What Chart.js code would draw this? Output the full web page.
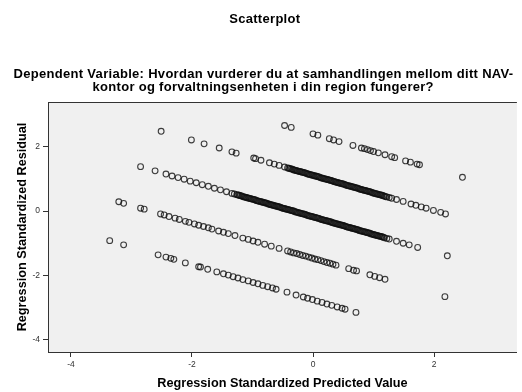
<!DOCTYPE html>
<html>
<head>
<meta charset="utf-8">
<script src="https://cdn.jsdelivr.net/npm/chart.js@4.4.1/dist/chart.umd.min.js"></script>
<style>
  html, body { margin: 0; padding: 0; background: #ffffff; }
  #wrap { width: 522px; height: 392px; }
</style>
</head>
<body>
<div id="wrap"><canvas id="c" width="522" height="392"></canvas></div>
<script>
// ---- Data ----
const chartTitle = "Scatterplot";
const chartSubtitle = [
  "Dependent Variable: Hvordan vurderer du at samhandlingen mellom ditt NAV-",
  "kontor og forvaltningsenheten i din region fungerer?"
];
const xAxisTitle = "Regression Standardized Predicted Value";
const yAxisTitle = "Regression Standardized Residual";
const xTicks = [-4, -2, 0, 2];
const yTicks = [-4, -2, 0, 2];

// Each band = one observed response level: [standardized predicted, standardized residual]
const bandA = [
  [-0.47,2.66],[-0.36,2.60],[0.00,2.40],[0.08,2.36],[0.27,2.25],[0.34,2.21],[0.43,2.16],
  [0.66,2.04],[0.80,1.96],[0.85,1.94],[0.90,1.91],[0.95,1.88],[1.00,1.85],[1.08,1.81],
  [1.19,1.75],[1.30,1.69],[1.35,1.66],[1.53,1.56],[1.61,1.52],[1.72,1.46],[1.76,1.44],
  [2.47,1.05]
];
const bandB = [
  [-2.51,2.48],[-2.01,2.21],[-1.80,2.09],[-1.55,1.96],[-1.34,1.84],[-1.27,1.80],
  [-0.98,1.65],[-0.95,1.63],[-0.86,1.58],[-0.72,1.50],[-0.64,1.46],[-0.56,1.42],[-0.47,1.37],
  [-0.42,1.34],[-0.38,1.32],[-0.34,1.30],[-0.30,1.27],[-0.26,1.25],[-0.22,1.23],[-0.18,1.21],
  [-0.14,1.19],[-0.10,1.16],[-0.06,1.14],[-0.02,1.12],[0.02,1.10],[0.06,1.08],[0.10,1.06],
  [0.14,1.03],[0.18,1.01],[0.22,0.99],[0.26,0.97],[0.30,0.95],[0.34,0.92],[0.38,0.90],
  [0.42,0.88],[0.46,0.86],[0.50,0.84],[0.54,0.81],[0.58,0.79],[0.62,0.77],[0.66,0.75],
  [0.70,0.73],[0.74,0.71],[0.78,0.68],[0.82,0.66],[0.86,0.64],[0.90,0.62],[0.94,0.60],
  [0.98,0.57],[1.02,0.55],[1.06,0.53],[1.10,0.51],[1.14,0.49],[1.18,0.46],[1.22,0.44],
  [1.26,0.42],[1.30,0.40],
  [-0.40,1.33],[-0.36,1.31],[-0.32,1.28],
  [-0.28,1.26],[-0.24,1.24],[-0.20,1.22],[-0.16,1.20],[-0.12,1.18],[-0.08,1.15],[-0.04,1.13],
  [0.00,1.11],[0.04,1.09],[0.08,1.07],[0.12,1.04],[0.16,1.02],[0.20,1.00],[0.24,0.98],
  [0.28,0.96],[0.32,0.94],[0.36,0.91],[0.40,0.89],[0.44,0.87],[0.48,0.85],[0.52,0.83],
  [0.56,0.80],[0.60,0.78],[0.64,0.76],[0.68,0.74],[0.72,0.72],[0.76,0.69],[0.80,0.67],
  [0.84,0.65],[0.88,0.63],[0.92,0.61],[0.96,0.59],[1.00,0.56],[1.04,0.54],[1.08,0.52],
  [1.12,0.50],[1.16,0.48],[1.20,0.45],
  [1.38,0.36],[1.49,0.30],[1.62,0.22],[1.70,0.18],[1.79,0.13],[1.87,0.09],[1.99,0.02],
  [2.11,-0.04],[2.19,-0.09]
];
const bandC = [
  [-2.85,1.38],[-2.61,1.25],[-2.43,1.15],[-2.33,1.09],[-2.23,1.04],[-2.13,0.99],[-2.03,0.93],
  [-1.93,0.88],[-1.83,0.82],[-1.73,0.77],[-1.63,0.71],[-1.53,0.66],[-1.43,0.60],[-1.34,0.55],
  [-1.30,0.53],
  [-1.26,0.51],[-1.22,0.49],[-1.18,0.47],[-1.14,0.44],[-1.10,0.42],[-1.06,0.40],[-1.02,0.38],
  [-0.98,0.36],[-0.94,0.33],[-0.90,0.31],[-0.86,0.29],[-0.82,0.27],[-0.78,0.25],[-0.74,0.22],
  [-0.70,0.20],[-0.66,0.18],[-0.62,0.16],[-0.58,0.14],[-0.54,0.12],[-0.50,0.09],[-0.46,0.07],
  [-0.42,0.05],[-0.38,0.03],[-0.34,0.01],[-0.30,-0.02],[-0.26,-0.04],[-0.22,-0.06],[-0.18,-0.08],
  [-0.14,-0.10],[-0.10,-0.13],[-0.06,-0.15],[-0.02,-0.17],[0.02,-0.19],[0.06,-0.21],[0.10,-0.23],
  [0.14,-0.26],[0.18,-0.28],[0.22,-0.30],[0.26,-0.32],[0.30,-0.34],[0.34,-0.37],[0.38,-0.39],
  [0.42,-0.41],[0.46,-0.43],[0.50,-0.45],[0.54,-0.48],[0.58,-0.50],[0.62,-0.52],[0.66,-0.54],
  [0.70,-0.56],[0.74,-0.58],[0.78,-0.61],[0.82,-0.63],[0.86,-0.65],[0.90,-0.67],[0.94,-0.69],
  [0.98,-0.72],[1.02,-0.74],[1.06,-0.76],[1.10,-0.78],[1.14,-0.80],[1.18,-0.83],[1.22,-0.85],
  [1.26,-0.87],
  [-1.24,0.50],[-1.20,0.48],[-1.16,0.45],[-1.12,0.43],[-1.08,0.41],[-1.04,0.39],[-1.00,0.37],
  [-0.96,0.35],[-0.92,0.32],[-0.88,0.30],[-0.84,0.28],
  [-0.80,0.26],[-0.76,0.24],[-0.72,0.21],[-0.68,0.19],[-0.64,0.17],[-0.60,0.15],[-0.56,0.13],
  [-0.52,0.10],[-0.48,0.08],[-0.44,0.06],[-0.40,0.04],[-0.36,0.02],[-0.32,0.00],[-0.28,-0.03],
  [-0.24,-0.05],[-0.20,-0.07],[-0.16,-0.09],[-0.12,-0.11],[-0.08,-0.14],[-0.04,-0.16],[0.00,-0.18],
  [0.04,-0.20],[0.08,-0.22],[0.12,-0.25],[0.16,-0.27],[0.20,-0.29],[0.24,-0.31],[0.28,-0.33],
  [0.32,-0.36],[0.36,-0.38],[0.40,-0.40],[0.44,-0.42],[0.48,-0.44],[0.52,-0.46],[0.56,-0.49],
  [0.60,-0.51],[0.64,-0.53],[0.68,-0.55],[0.72,-0.57],[0.76,-0.60],[0.80,-0.62],[0.84,-0.64],
  [0.88,-0.66],[0.92,-0.68],[0.96,-0.71],[1.00,-0.73],[1.04,-0.75],[1.08,-0.77],[1.12,-0.79],
  [1.16,-0.81],
  [1.38,-0.94],[1.49,-1.00],[1.59,-1.05],[1.73,-1.13],[2.22,-1.39]
];
const bandD = [
  [-3.21,0.29],[-3.13,0.24],[-2.85,0.09],[-2.79,0.06],
  [-2.52,-0.09],[-2.46,-0.12],[-2.38,-0.17],[-2.28,-0.22],[-2.21,-0.26],[-2.11,-0.32],
  [-2.05,-0.35],[-1.96,-0.40],[-1.89,-0.44],[-1.81,-0.48],[-1.73,-0.52],[-1.67,-0.56],
  [-1.56,-0.62],[-1.48,-0.66],[-1.40,-0.70],[-1.29,-0.76],[-1.16,-0.84],[-1.07,-0.88],
  [-0.99,-0.93],[-0.91,-0.97],[-0.80,-1.03],[-0.69,-1.09],[-0.56,-1.16],
  [-0.42,-1.24],[-0.37,-1.27],[-0.32,-1.30],[-0.27,-1.32],[-0.22,-1.35],[-0.17,-1.38],
  [-0.12,-1.40],[-0.07,-1.43],[-0.02,-1.46],[0.03,-1.49],[0.08,-1.51],[0.13,-1.54],
  [0.18,-1.57],[0.23,-1.60],[0.28,-1.62],[0.33,-1.65],[0.38,-1.68],
  [0.59,-1.79],[0.67,-1.84],[0.72,-1.86],[0.94,-1.98],[1.02,-2.03],[1.10,-2.07],[1.19,-2.12],
  [2.18,-2.66]
];
const bandE = [
  [-3.36,-0.92],[-3.13,-1.05],
  [-2.56,-1.36],[-2.43,-1.43],[-2.35,-1.47],[-2.30,-1.50],[-2.11,-1.61],[-1.89,-1.73],
  [-1.86,-1.74],[-1.74,-1.81],[-1.59,-1.89],[-1.48,-1.95],[-1.40,-1.99],[-1.32,-2.04],
  [-1.24,-2.08],[-1.16,-2.13],[-1.07,-2.17],[-0.99,-2.22],[-0.91,-2.26],[-0.83,-2.31],
  [-0.75,-2.35],[-0.67,-2.39],[-0.61,-2.43],
  [-0.43,-2.52],[-0.28,-2.61],[-0.16,-2.67],[-0.09,-2.71],[-0.01,-2.75],[0.07,-2.80],
  [0.15,-2.84],[0.23,-2.89],[0.31,-2.93],[0.40,-2.98],[0.48,-3.02],[0.53,-3.05],[0.71,-3.15]
];
const bands = [bandA, bandB, bandC, bandD, bandE];

// ---- Styling ----
const FONT = '"Liberation Sans", Arial, sans-serif';
const markerColor = 'rgba(15,15,15,0.8)';
const axisColor = '#333333';

const backgroundPlugin = {
  id: 'plotBackground',
  beforeDraw(chart) {
    const {ctx, chartArea: a} = chart;
    ctx.save();
    ctx.fillStyle = '#f0f0f0';
    ctx.fillRect(a.left, a.top, a.right - a.left, a.bottom - a.top);
    ctx.strokeStyle = axisColor;
    ctx.lineWidth = 1;
    ctx.beginPath();
    ctx.moveTo(a.left, Math.floor(a.top) + 0.5);
    ctx.lineTo(a.right, Math.floor(a.top) + 0.5);
    ctx.stroke();
    ctx.restore();
  }
};

const titlesPlugin = {
  id: 'titles',
  afterDraw(chart) {
    const ctx = chart.ctx;
    ctx.save();
    ctx.fillStyle = '#000000';
    ctx.textAlign = 'center';
    ctx.textBaseline = 'alphabetic';
    ctx.font = 'bold 13px ' + FONT;
    if ('letterSpacing' in ctx) ctx.letterSpacing = '0.3px';
    ctx.fillText(chartTitle, 264.8, 23.3);
    ctx.fillText(chartSubtitle[0], 263.5, 78.3);
    ctx.fillText(chartSubtitle[1], 263.2, 91.3);
    if ('letterSpacing' in ctx) ctx.letterSpacing = '0px';
    ctx.restore();
  }
};

new Chart(document.getElementById('c'), {
  type: 'scatter',
  data: {
    datasets: bands.map((b, i) => ({
      label: 'band' + i,
      data: b.map(p => ({x: p[0], y: p[1]})),
      pointStyle: 'circle',
      pointRadius: 2.9,
      pointBorderWidth: 1.1,
      pointBorderColor: markerColor,
      pointBackgroundColor: 'rgba(0,0,0,0)',
      showLine: false
    }))
  },
  options: {
    responsive: false,
    devicePixelRatio: 1,
    animation: false,
    events: [],
    layout: { padding: { top: 102, left: 0, right: 0, bottom: 0 } },
    plugins: {
      legend: { display: false },
      tooltip: { enabled: false },
      title: { display: false }
    },
    scales: {
      x: {
        type: 'linear',
        position: 'bottom',
        min: -4.38, max: 3.37,
        afterBuildTicks: s => { s.ticks = xTicks.map(v => ({value: v})); },
        afterFit: s => { s.height = 40; },
        ticks: {
          callback: v => String(v),
          color: '#333333',
          font: { family: FONT, size: 8.5 },
          padding: 3,
          maxRotation: 0
        },
        grid: {
          display: true, drawOnChartArea: false, drawTicks: true,
          tickLength: 5, tickColor: axisColor, color: axisColor
        },
        border: { display: true, color: axisColor, width: 1 },
        title: {
          display: true, text: xAxisTitle, color: '#000000',
          font: { family: FONT, size: 12.7, weight: 'bold' },
          padding: { top: 0, bottom: 1 }
        }
      },
      y: {
        type: 'linear',
        position: 'left',
        min: -4.38, max: 3.39,
        afterBuildTicks: s => { s.ticks = yTicks.map(v => ({value: v})); },
        afterFit: s => { s.width = 48; },
        ticks: {
          callback: v => String(v),
          color: '#333333',
          font: { family: FONT, size: 8.5 },
          padding: 3
        },
        grid: {
          display: true, drawOnChartArea: false, drawTicks: true,
          tickLength: 5, tickColor: axisColor, color: axisColor
        },
        border: { display: true, color: axisColor, width: 1 },
        title: {
          display: true, text: yAxisTitle, color: '#000000',
          font: { family: FONT, size: 12.7, weight: 'bold' },
          padding: { top: 15, bottom: 0 }
        }
      }
    }
  },
  plugins: [backgroundPlugin, titlesPlugin]
});
</script>
</body>
</html>
